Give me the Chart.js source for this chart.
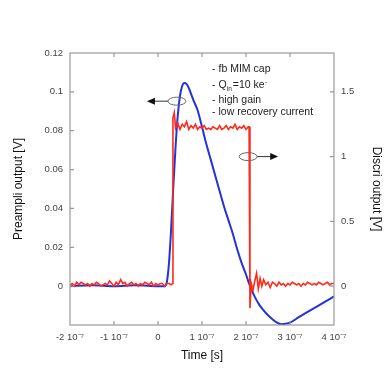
<!DOCTYPE html>
<html>
<head>
<meta charset="utf-8">
<script src="https://cdn.jsdelivr.net/npm/chart.js@4"></script>
<style>
  body { margin: 0; background: #fff; }
  #wrap { width: 386px; height: 376px; }
</style>
</head>
<body>
<div id="wrap"><canvas id="chart" width="386" height="376"></canvas></div>
<script>
// time in units of 1e-7 s
const xTicks = [-2, -1, 0, 1, 2, 3, 4];
const leftTicks = [0, 0.02, 0.04, 0.06, 0.08, 0.1, 0.12];
const rightTicks = [0, 0.5, 1, 1.5];

// preamp output (left axis, V)
const blueTime = [-2.0, -1.5, -1.0, -0.5, 0.0, 0.15, 0.2, 0.25, 0.3, 0.35, 0.4, 0.45, 0.5, 0.55, 0.6, 0.65, 0.7,
  0.8, 0.9, 1.0, 1.1, 1.2, 1.35, 1.5, 1.6, 1.7, 1.8, 1.9, 2.0, 2.1, 2.2, 2.3, 2.4, 2.5, 2.6, 2.7, 2.8, 2.9,
  3.0, 3.2, 3.4, 3.6, 3.8, 4.0];
const blueValue = [0, 0.0005, 0, 0.0005, 0, 0, 0.002, 0.012, 0.03, 0.052, 0.072, 0.088, 0.098, 0.103, 0.1045, 0.104, 0.102,
  0.096, 0.0905, 0.082, 0.073, 0.065, 0.053, 0.041, 0.034, 0.027, 0.019, 0.012, 0.006, -0.0005, -0.0055, -0.0095, -0.0125, -0.015, -0.017, -0.0187, -0.0196, -0.0194,
  -0.0188, -0.016, -0.0133, -0.0107, -0.008, -0.0053];

// discri output (right axis, V)
const redTime = [-2.00, -1.95, -1.90, -1.85, -1.80, -1.75, -1.70, -1.65, -1.60, -1.55, -1.50, -1.45, -1.40, -1.35, -1.30, -1.25,
  -1.20, -1.15, -1.10, -1.05, -1.00, -0.95, -0.90, -0.85, -0.80, -0.75, -0.70, -0.65, -0.60, -0.55, -0.50, -0.45,
  -0.40, -0.35, -0.30, -0.25, -0.20, -0.15, -0.10, -0.05, 0.00, 0.05, 0.10, 0.15, 0.20, 0.25, 0.30,
  0.33, 0.34, 0.37,
  0.40, 0.45, 0.50, 0.55, 0.60, 0.65, 0.70, 0.75, 0.80, 0.85, 0.90, 0.95, 1.00, 1.05, 1.10, 1.15, 1.20,
  1.25, 1.30, 1.35, 1.40, 1.45, 1.50, 1.55, 1.60, 1.65, 1.70, 1.75, 1.80, 1.85, 1.90, 1.95, 2.00, 2.05,
  2.07, 2.09, 2.12, 2.16, 2.20, 2.24, 2.28, 2.32, 2.36, 2.40,
  2.45, 2.50, 2.55, 2.60, 2.65, 2.70, 2.75, 2.80, 2.85, 2.90, 2.95, 3.00, 3.05, 3.10, 3.15, 3.20,
  3.25, 3.30, 3.35, 3.40, 3.45, 3.50, 3.55, 3.60, 3.65, 3.70, 3.75, 3.80, 3.85, 3.90, 3.95, 4.00];
const redValue = [0.01, 0.02, 0.00, 0.03, 0.01, 0.03, 0.02, 0.01, 0.02, 0.00, 0.02, 0.01, 0.03, 0.02, 0.00, 0.01,
  0.02, 0.01, 0.04, 0.02, 0.00, 0.03, 0.01, 0.05, 0.02, 0.03, 0.00, 0.02, 0.03, 0.01, 0.02, 0.00,
  0.02, 0.01, 0.03, 0.02, 0.01, 0.03, 0.00, 0.02, 0.01, 0.02, 0.02, 0.00, 0.02, 0.02, 0.01,
  0.02, 1.30, 1.34,
  1.22, 1.26, 1.21, 1.25, 1.23, 1.27, 1.21, 1.24, 1.22, 1.25, 1.21, 1.23, 1.22, 1.24, 1.21, 1.22, 1.21,
  1.23, 1.22, 1.21, 1.24, 1.21, 1.22, 1.24, 1.21, 1.23, 1.22, 1.25, 1.21, 1.23, 1.22, 1.24, 1.21, 1.23,
  1.23, -0.17, 0.02, -0.03, 0.04, 0.10, -0.02, 0.06, 0.00, 0.05,
  0.01, 0.03, -0.01, 0.03, 0.02, 0.00, 0.03, 0.01, 0.02, 0.00, 0.02, 0.01, 0.03, 0.02, 0.01, 0.02,
  0.00, 0.02, 0.01, 0.03, 0.02, 0.01, 0.02, 0.01, 0.03, 0.02, 0.01, 0.02, 0.03, 0.01, 0.02, 0.02];

const notes = ['- fb MIM cap', '- Q', '- high gain', '- low recovery current'];

const FONT = "'Liberation Sans', Arial, Helvetica, sans-serif";
const TICK_COLOR = '#444';

const decorPlugin = {
  id: 'decor',
  afterDraw(chart) {
    const { ctx, chartArea: a, scales } = chart;
    const x = scales.x, y = scales.y, y1 = scales.y1;
    ctx.save();

    // frame
    ctx.strokeStyle = '#9a9a9a';
    ctx.lineWidth = 1.2;
    ctx.strokeRect(a.left, a.top, a.right - a.left, a.bottom - a.top);

    // inward tick marks
    const len = 4;
    ctx.beginPath();
    xTicks.forEach(v => {
      const px = x.getPixelForValue(v);
      if (px <= a.left + 1 || px >= a.right - 1) return;
      ctx.moveTo(px, a.bottom); ctx.lineTo(px, a.bottom - len);
      ctx.moveTo(px, a.top); ctx.lineTo(px, a.top + len);
    });
    leftTicks.forEach(v => {
      const py = y.getPixelForValue(v);
      if (py <= a.top + 1) return;
      ctx.moveTo(a.left, py); ctx.lineTo(a.left + len, py);
    });
    rightTicks.forEach(v => {
      const py = y1.getPixelForValue(v);
      ctx.moveTo(a.right, py); ctx.lineTo(a.right - len, py);
    });
    ctx.stroke();

    // notes
    ctx.fillStyle = '#222';
    ctx.textBaseline = 'middle';
    ctx.textAlign = 'left';
    const big = `10.5px ${FONT}`, small = `6.5px ${FONT}`;
    ctx.font = big;
    const tx = x.getPixelForValue(1.23);
    const rows = [0.1117, 0.1033, 0.0957, 0.0895].map(v => y.getPixelForValue(v));
    ctx.fillText(notes[0], tx, rows[0]);
    ctx.fillText(notes[1], tx, rows[1]);
    let qx = tx + ctx.measureText(notes[1]).width;
    ctx.font = small;
    ctx.fillText('in', qx, rows[1] + 4);
    qx += ctx.measureText('in').width + 1;
    ctx.font = big;
    ctx.fillText('=10 ke', qx, rows[1]);
    qx += ctx.measureText('=10 ke').width;
    ctx.font = small;
    ctx.fillText('-', qx + 0.5, rows[1] - 3);
    ctx.font = big;
    ctx.fillText(notes[2], tx, rows[2]);
    ctx.fillText(notes[3], tx, rows[3]);

    // ellipses with arrows
    const drawMarker = (cx, cy, dir) => {
      const rx = 9, ry = 4;
      ctx.strokeStyle = '#666';
      ctx.lineWidth = 1;
      ctx.beginPath();
      ctx.ellipse(cx, cy, rx, ry, 0, 0, Math.PI * 2);
      ctx.stroke();
      const start = cx + dir * rx;
      const tip = cx + dir * 30;
      ctx.strokeStyle = '#333';
      ctx.beginPath();
      ctx.moveTo(start, cy);
      ctx.lineTo(tip - dir * 7, cy);
      ctx.stroke();
      ctx.fillStyle = '#111';
      ctx.beginPath();
      ctx.moveTo(tip, cy);
      ctx.lineTo(tip - dir * 8, cy - 3.5);
      ctx.lineTo(tip - dir * 8, cy + 3.5);
      ctx.closePath();
      ctx.fill();
    };
    drawMarker(x.getPixelForValue(0.43), y.getPixelForValue(0.0952), -1);
    drawMarker(x.getPixelForValue(2.05), y1.getPixelForValue(1.0), 1);

    ctx.restore();
  }
};

const toPoints = (ts, vs) => ts.map((t, i) => ({ x: t, y: vs[i] }));

new Chart(document.getElementById('chart').getContext('2d'), {
  type: 'line',
  data: {
    datasets: [
      {
        label: 'Discri output',
        data: toPoints(redTime, redValue),
        yAxisID: 'y1',
        borderColor: '#ff2a1a',
        borderWidth: 1.6,
        pointRadius: 0,
        tension: 0
      },
      {
        label: 'Preampli output',
        data: toPoints(blueTime, blueValue),
        yAxisID: 'y',
        borderColor: '#2433d8',
        borderWidth: 2,
        pointRadius: 0,
        cubicInterpolationMode: 'monotone'
      }
    ]
  },
  options: {
    responsive: false,
    animation: false,
    layout: { padding: { top: 53, left: 0, right: 0, bottom: 0 } },
    plugins: { legend: { display: false }, tooltip: { enabled: false } },
    scales: {
      x: {
        type: 'linear',
        min: -2, max: 4,
        afterBuildTicks: s => { s.ticks = xTicks.map(v => ({ value: v })); },
        ticks: {
          color: TICK_COLOR, padding: 7, maxRotation: 0,
          font: { family: FONT, size: 9.5 },
          callback: v => v === 0 ? '0' : `${v} 10⁻⁷`
        },
        grid: { display: false, drawTicks: false },
        border: { display: false },
        title: { display: true, text: 'Time [s]', color: '#111', font: { family: FONT, size: 12 }, padding: { bottom: 13 } },
        afterFit: s => { s.height = 51; }
      },
      y: {
        position: 'left',
        min: -0.02, max: 0.12,
        afterBuildTicks: s => { s.ticks = leftTicks.map(v => ({ value: v })); },
        ticks: {
          color: TICK_COLOR, padding: 7,
          font: { family: FONT, size: 9.5 },
          callback: v => String(+v.toFixed(2))
        },
        grid: { display: false, drawTicks: false },
        border: { display: false },
        title: { display: true, text: 'Preampli output [V]', color: '#111', font: { family: FONT, size: 12 }, padding: { top: 11 } },
        afterFit: s => { s.width = 70; }
      },
      y1: {
        position: 'right',
        min: -0.3, max: 1.8,
        afterBuildTicks: s => { s.ticks = rightTicks.map(v => ({ value: v })); },
        ticks: {
          color: TICK_COLOR, padding: 7,
          font: { family: FONT, size: 9.5 },
          callback: v => String(v)
        },
        grid: { display: false, drawTicks: false },
        border: { display: false },
        title: { display: true, text: 'Discri output [V]', color: '#111', font: { family: FONT, size: 12 }, padding: { top: 2 } },
        afterFit: s => { s.width = 52; }
      }
    }
  },
  plugins: [decorPlugin]
});
</script>
</body>
</html>
